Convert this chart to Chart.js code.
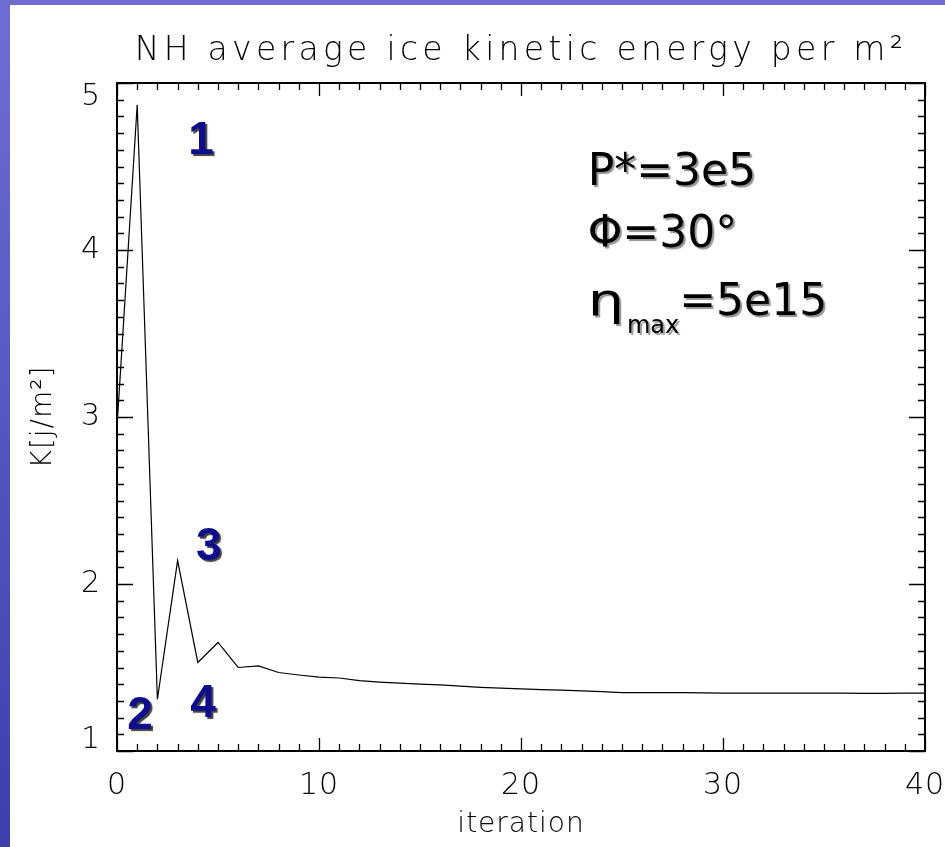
<!DOCTYPE html>
<html><head><meta charset="utf-8">
<script src="https://cdn.jsdelivr.net/npm/chart.js@4.4.1/dist/chart.umd.min.js"></script>
<style>
html,body{margin:0;padding:0;width:945px;height:847px;overflow:hidden;}
body{background:linear-gradient(180deg,#6e6ed2 0%,#5b5bc6 40%,#3d3dae 100%);}
#wrap{position:absolute;left:10px;top:5px;width:935px;height:842px;background:#fff;}
canvas{display:block;}
</style></head><body>
<div id="wrap"><canvas id="c" width="935" height="842"></canvas></div>
<script>
// ---- data ----
const iterations = [0,1,2,3,4,5,6,7,8,9,10,11,12,13,14,15,16,17,18,19,20,21,22,23,24,25,26,27,28,29,30,31,32,33,34,35,36,37,38,39,40];
const kineticEnergy = [2.94,4.87,1.31,2.14,1.53,1.65,1.50,1.51,1.47,1.455,1.442,1.437,1.421,1.413,1.406,1.400,1.396,1.388,1.381,1.376,1.372,1.368,1.364,1.360,1.356,1.350,1.350,1.350,1.349,1.348,1.347,1.346,1.347,1.347,1.347,1.346,1.346,1.345,1.345,1.346,1.347];
const xTickValues = [0,10,20,30,40];
const yTickValues = [1,2,3,4,5];
const yTickLabels = ['1','2','3','4','5'];
const titleText = 'NH average ice kinetic energy per m\u00B2';
const xAxisTitle = 'iteration';
const yAxisTitle = 'K[j/m\u00B2]';
const markerLabels = ['1','2','3','4'];
const markerX = [4.16,1.14,4.55,4.26];
const markerY = [4.66,1.22,2.23,1.29];
const paramAnchorX = 23.3;
const paramAnchorY = 4.39;

const thinFont = '"DejaVu Sans"';

const spacingPlugin = {
  id:'spacing',
  beforeDraw(chart){ chart.ctx.letterSpacing = '4.3px'; },
  beforeDatasetsDraw(chart){ chart.ctx.letterSpacing = '1px'; }
};

const framePlugin = {
  id:'frame',
  afterDraw(chart){
    const {ctx, chartArea:a, scales:{x,y}} = chart;
    ctx.save();
    ctx.letterSpacing = '0px';
    ctx.strokeStyle = '#000';
    ctx.lineWidth = 1.3;
    ctx.beginPath();
    for (let v = 0; v <= 40; v++) {
      const px = Math.round(x.getPixelForValue(v)) + 0.5;
      const L = v % 10 === 0 ? 13 : 7;
      ctx.moveTo(px, a.bottom); ctx.lineTo(px, a.bottom - L);
      ctx.moveTo(px, a.top); ctx.lineTo(px, a.top + L);
    }
    for (let k = 10; k <= 50; k++) {
      const py = Math.round(y.getPixelForValue(k / 10)) + 0.5;
      const L = k % 10 === 0 ? 16 : 7;
      ctx.moveTo(a.left, py); ctx.lineTo(a.left + L, py);
      ctx.moveTo(a.right, py); ctx.lineTo(a.right - L, py);
    }
    ctx.stroke();
    ctx.lineWidth = 2;
    ctx.strokeRect(a.left, a.top, a.right - a.left, a.bottom - a.top);

    // y tick labels
    ctx.letterSpacing = '1px';
    ctx.font = '200 30px ' + thinFont;
    ctx.fillStyle = '#000';
    ctx.textAlign = 'right';
    ctx.textBaseline = 'middle';
    yTickValues.forEach((v, i) => {
      let py = y.getPixelForValue(v);
      if (i === 0) py -= 11;
      if (i === yTickValues.length - 1) py += 14;
      ctx.fillText(yTickLabels[i], a.left - 16, py);
    });

    // numbered markers
    ctx.letterSpacing = '0px';
    ctx.font = 'bold 46px "Liberation Sans"';
    ctx.textAlign = 'center';
    ctx.textBaseline = 'middle';
    markerLabels.forEach((t, i) => {
      ctx.save();
      ctx.shadowColor = 'rgba(0,0,0,0.75)';
      ctx.shadowOffsetX = 2; ctx.shadowOffsetY = 2; ctx.shadowBlur = 1;
      ctx.fillStyle = '#0d0d8e';
      ctx.fillText(t, x.getPixelForValue(markerX[i]), y.getPixelForValue(markerY[i]) + 2);
      ctx.restore();
    });

    // parameter text
    const ax = x.getPixelForValue(paramAnchorX);
    const ay = y.getPixelForValue(paramAnchorY);
    ctx.save();
    ctx.shadowColor = 'rgba(120,120,120,0.8)';
    ctx.shadowOffsetX = 2; ctx.shadowOffsetY = 2; ctx.shadowBlur = 1;
    ctx.fillStyle = '#000';
    ctx.textAlign = 'left';
    ctx.textBaseline = 'alphabetic';
    ctx.font = '44px "DejaVu Sans"';
    ctx.fillText('P*=3e5', ax, ay);
    ctx.fillText('\u03A6=30\u00B0', ax, ay + 62);
    let cx = ax;
    ctx.save();
    ctx.translate(cx, ay + 130);
    ctx.scale(1.3, 1);
    ctx.fillText('\u03B7', 0, 0);
    ctx.restore();
    cx += ctx.measureText('\u03B7').width * 1.3 + 3;
    ctx.font = '24px "DejaVu Sans"';
    ctx.fillText('max', cx, ay + 148);
    cx += ctx.measureText('max').width;
    ctx.font = '44px "DejaVu Sans"';
    ctx.fillText('=5e15', cx, ay + 130);
    ctx.restore();
    ctx.restore();
  }
};

new Chart(document.getElementById('c'), {
  type: 'line',
  data: {
    datasets: [{
      data: iterations.map((v, i) => ({x: v, y: kineticEnergy[i]})),
      borderColor: '#000',
      borderWidth: 1.2,
      pointRadius: 0,
      tension: 0,
      fill: false
    }]
  },
  options: {
    responsive: false,
    animation: false,
    events: [],
    layout: {padding: {left: 0, right: 20, top: 0, bottom: 0}},
    plugins: {
      legend: {display: false},
      tooltip: {enabled: false},
      title: {
        display: true,
        text: titleText,
        fullSize: false,
        color: '#000',
        font: {family: thinFont, size: 33, weight: 200, lineHeight: 1.2},
        padding: {top: 27, bottom: 11.4}
      }
    },
    scales: {
      x: {
        type: 'linear',
        min: 0, max: 40,
        afterBuildTicks: s => { s.ticks = xTickValues.map(v => ({value: v})); },
        afterFit: s => { s.height = 96; s.paddingLeft = 0; s.paddingRight = 0; },
        grid: {display: false, drawTicks: false, z: 1},
        border: {display: false},
        ticks: {z: 1, color: '#000', padding: 17, maxRotation: 0, autoSkip: false,
          font: {family: thinFont, size: 30, weight: 200, lineHeight: 1.2},
          callback: v => String(v)},
        title: {display: true, text: xAxisTitle, color: '#000',
          font: {family: thinFont, size: 28, weight: 200, lineHeight: 1.2},
          padding: {top: 0, bottom: 5}}
      },
      y: {
        type: 'linear',
        min: 1, max: 5,
        afterFit: s => { s.width = 107; s.paddingTop = 0; s.paddingBottom = 0; },
        grid: {display: false, drawTicks: false, z: 1},
        border: {display: false},
        ticks: {display: false, z: 1},
        title: {display: true, text: yAxisTitle, color: '#000',
          font: {family: thinFont, size: 28, weight: 200, lineHeight: 1.2},
          padding: {top: 17, bottom: 0}}
      }
    }
  },
  plugins: [spacingPlugin, framePlugin]
});
</script>
</body></html>
